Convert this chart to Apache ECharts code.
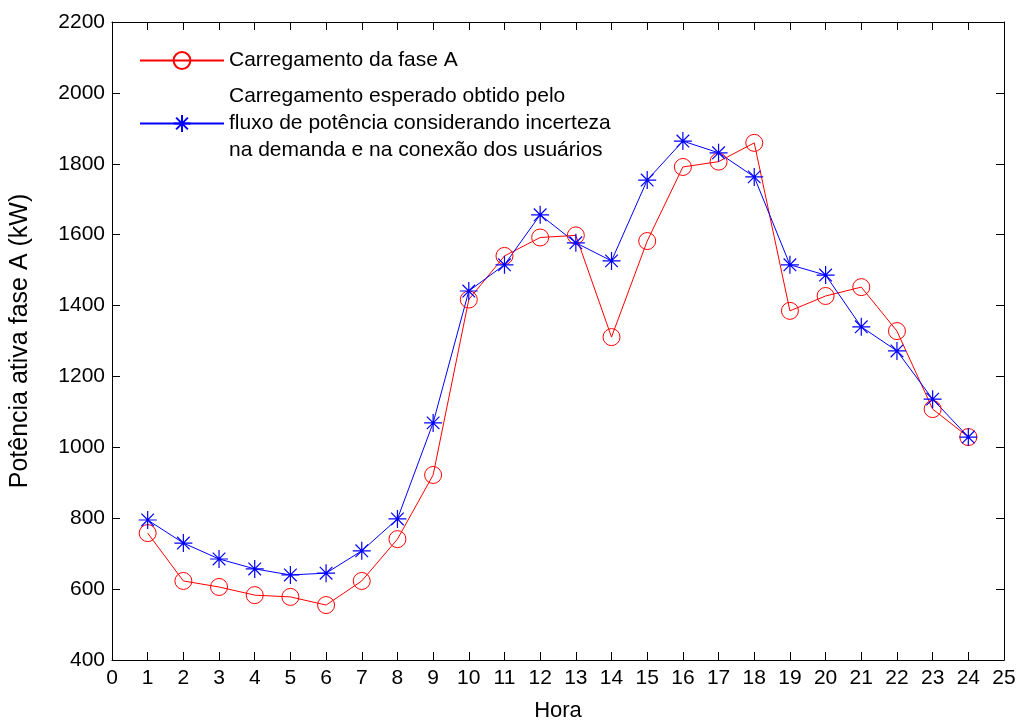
<!DOCTYPE html>
<html><head><meta charset="utf-8">
<script src="https://cdn.jsdelivr.net/npm/echarts@6/dist/echarts.min.js"></script>
<style>html,body{margin:0;padding:0;background:#fff}#c{width:1022px;height:722px}</style>
</head><body><div id="c"></div>
<script>
const hours = [1,2,3,4,5,6,7,8,9,10,11,12,13,14,15,16,17,18,19,20,21,22,23,24];
const faseA = [758,623,606,583,578,555,623,741,922,1417,1540,1592,1598,1311,1582,1791,1806,1859,1385,1427,1452,1328,1108,1029];
const esperado = [795,730,685,657,640,645,708,798,1069,1441,1515,1656,1577,1526,1754,1864,1831,1763,1515,1486,1340,1272,1136,1029];
const xTicks = [0,25,1];
const yTicks = [400,2200,200];
const nameA = 'Carregamento da fase A';
const nameB = 'Carregamento esperado obtido pelo\nfluxo de potência considerando incerteza\nna demanda e na conexão dos usuários';

const font = 'Liberation Sans, Arial, sans-serif';
const star = 'path://M0,-10L0,10M-10,0L10,0M-7,-7L7,7M-7,7L7,-7';
const chart = echarts.init(document.getElementById('c'));
const axisCommon = {
  axisLine:{show:true,onZero:false,lineStyle:{color:'#000',width:1}},
  axisTick:{show:true,inside:true,length:8,lineStyle:{color:'#000'}},
  splitLine:{show:false}
};
chart.setOption({
  animation:false,
  backgroundColor:'#fff',
  grid:{left:112,right:18,top:22,bottom:62,containLabel:false,outerBoundsMode:'none'},
  legend:{
    orient:'vertical', left:134, top:42, itemWidth:84, itemHeight:21, itemGap:9,
    textStyle:{fontFamily:font,fontSize:21,color:'#000',lineHeight:27},
    data:[nameA,nameB]
  },
  xAxis:[
    Object.assign({type:'value',min:xTicks[0],max:xTicks[1],interval:xTicks[2],position:'bottom',
      name:'Hora',nameLocation:'middle',nameGap:40,
      nameTextStyle:{fontFamily:font,fontSize:22,color:'#000'},
      axisLabel:{fontFamily:font,fontSize:21,color:'#000',margin:8}},axisCommon),
    Object.assign({type:'value',min:xTicks[0],max:xTicks[1],interval:xTicks[2],position:'top',
      axisLabel:{show:false}},axisCommon)
  ],
  yAxis:[
    Object.assign({type:'value',min:yTicks[0],max:yTicks[1],interval:yTicks[2],position:'left',
      name:'Potência ativa fase A (kW)',nameLocation:'middle',nameGap:79,
      nameTextStyle:{fontFamily:font,fontSize:25,color:'#000'},
      axisLabel:{fontFamily:font,fontSize:21,color:'#000',margin:7,formatter:v=>String(v)}},axisCommon),
    Object.assign({type:'value',min:yTicks[0],max:yTicks[1],interval:yTicks[2],position:'right',
      axisLabel:{show:false}},axisCommon)
  ],
  series:[
    {name:nameA,type:'line',data:hours.map((h,i)=>[h,faseA[i]]),
      symbol:'circle',symbolSize:17,showAllSymbol:true,
      lineStyle:{color:'#ff0000',width:1},
      itemStyle:{color:'rgba(0,0,0,0)',borderColor:'#ff0000',borderWidth:1}},
    {name:nameB,type:'line',data:hours.map((h,i)=>[h,esperado[i]]),
      symbol:star,symbolSize:18,showAllSymbol:true,
      lineStyle:{color:'#0000ff',width:1},
      itemStyle:{color:'#0000ff',borderColor:'#0000ff',borderWidth:1.2}}
  ]
});
</script></body></html>
